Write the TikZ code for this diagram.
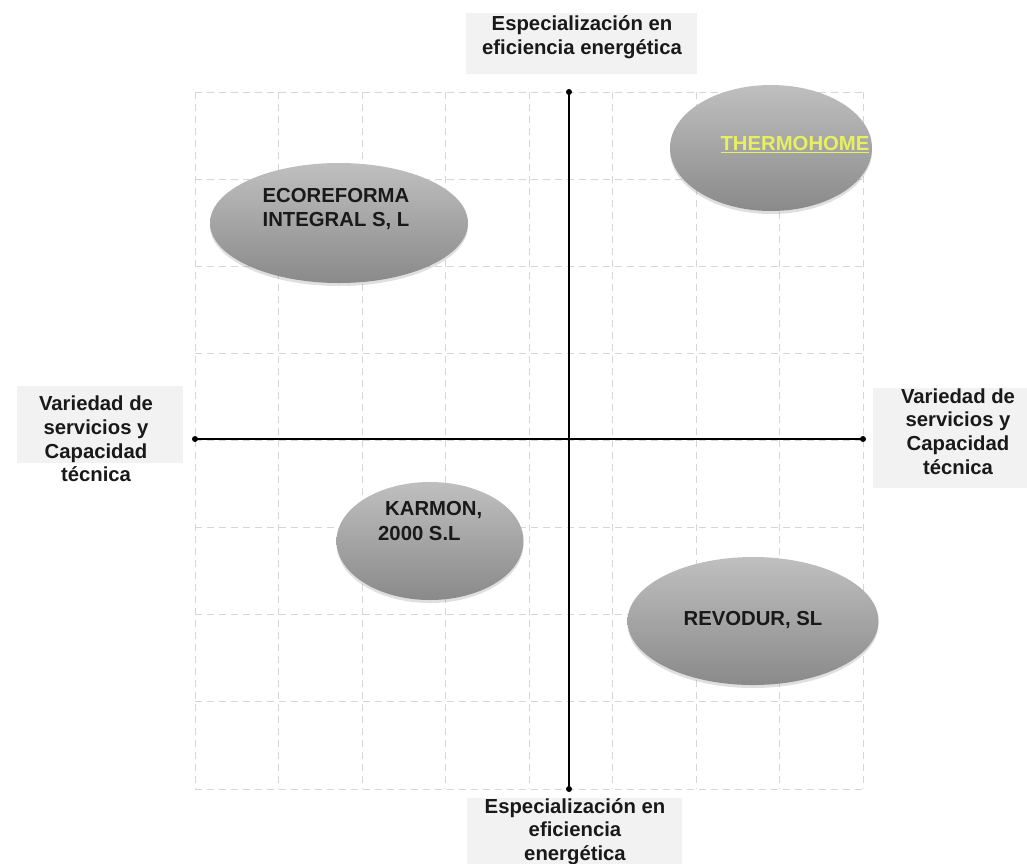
\documentclass[tikz,border=0pt]{standalone}
\usepackage{fontspec}
\setmainfont{Liberation Sans}
\usetikzlibrary{shapes.geometric,shadows}
\definecolor{gridc}{RGB}{214,214,214}
\definecolor{boxc}{RGB}{242,242,242}
\definecolor{ylw}{RGB}{232,240,96}
\definecolor{txt}{RGB}{25,25,25}
\tikzset{
  gridline/.style={gridc,dashed,dash pattern=on 7pt off 5pt,line width=0.9pt},
  axisline/.style={black,line width=1.3pt},
  axdot/.style={circle,fill=black,inner sep=0pt,minimum size=6pt},
  lblbox/.style={fill=boxc,draw=none,inner sep=0pt},
  lbltext/.style={font=\bfseries\fontsize{20.3}{23.8}\selectfont,align=center,inner sep=0pt,text=txt},
  company/.style={ellipse,inner sep=0pt,top color=gray!50,bottom color=gray!92!white,shading angle=0,
     drop shadow={shadow xshift=0pt,shadow yshift=-3pt,opacity=0.25,fill=gray}},
  ctext/.style={font=\bfseries\fontsize{20.3}{24.5}\selectfont,text=txt,inner sep=0pt}
}
\begin{document}
\begin{tikzpicture}[x=1pt,y=-1pt]
\useasboundingbox (0,0) rectangle (1027,863);
% grid
\foreach \i in {0,...,8}{
  \draw[gridline] ({195+83.5*\i},92) -- ({195+83.5*\i},789);
  \draw[gridline] (195,{92+87.125*\i}) -- (863,{92+87.125*\i});
}
% label boxes
\node[lblbox,minimum width=231pt,minimum height=61pt] (topbox) at (581.5,43.5) {};
\node[lblbox,minimum width=215pt,minimum height=66pt] (botbox) at (574.5,831) {};
\node[lblbox,minimum width=166pt,minimum height=77pt] (lftbox) at (100,424.5) {};
\node[lblbox,minimum width=154pt,minimum height=100pt] (rgtbox) at (950,438) {};
% axes
\coordinate (vt) at (569,92);
\coordinate (vb) at (569,789);
\coordinate (hl) at (195,439);
\coordinate (hr) at (863,439);
\draw[axisline] (vt) -- (vb);
\draw[axisline] (hl) -- (hr);
\node[axdot] at (vt) {};
\node[axdot] at (vb) {};
\node[axdot] at (hl) {};
\node[axdot] at (hr) {};
% label texts
\node[lbltext] (toptxt) at (582,37.5) {Especialización en\\eficiencia energética};
\node[lbltext] (bottxt) at (575,831.5) {Especialización en\\eficiencia\\energética};
\node[lbltext] (lfttxt) at (96,439) {Variedad de\\servicios y\\Capacidad\\técnica};
\node[lbltext] (rgttxt) at (958,431.5) {Variedad de\\servicios y\\Capacidad\\técnica};
% companies
\node[company,minimum width=202pt,minimum height=126pt] (thermo) at (771,148) {};
\node[ctext,text=ylw] (thermotxt) at (795,145) {\underline{THERMOHOME}};
\node[company,minimum width=258pt,minimum height=120pt] (eco) at (339,223) {};
\node[ctext,align=center] (ecotxt) at (336,209) {ECOREFORMA\\INTEGRAL S, L};
\node[company,minimum width=187pt,minimum height=118pt] (karmon) at (430,541) {};
\node[ctext,align=left,anchor=west] (karmontxt) at (378,521) {\hspace{7pt}KARMON,\\2000 S.L};
\node[company,minimum width=251pt,minimum height=128pt] (revodur) at (753,621) {};
\node[ctext] (revodurtxt) at (753,620) {REVODUR, SL};
\end{tikzpicture}
\end{document}
